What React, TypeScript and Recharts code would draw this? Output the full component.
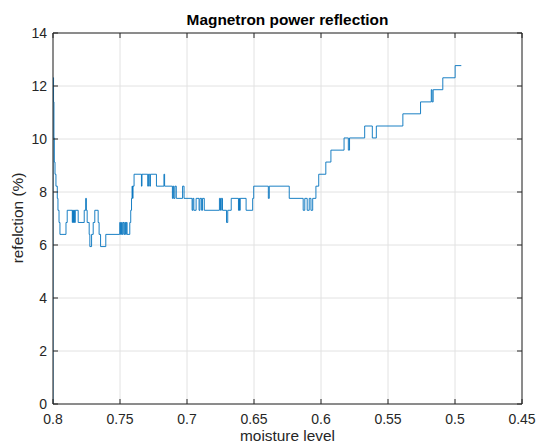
import React from 'react';
import { LineChart, Line, XAxis, YAxis, CartesianGrid } from 'recharts';

// moisture level (x) and reflection % (y), one entry per step change
const moisture = [
  0.8, 0.8, 0.7996, 0.7993, 0.799, 0.7985, 0.7978, 0.7968, 0.7963, 0.7955,
  0.7948, 0.7903, 0.7894, 0.7856, 0.7853, 0.7847, 0.7842, 0.7838, 0.7834, 0.7812,
  0.7767, 0.7756, 0.7751, 0.7745, 0.773, 0.7725, 0.7712, 0.77, 0.7688, 0.7663,
  0.7656, 0.7645, 0.7606, 0.7502, 0.7496, 0.7489, 0.7483, 0.7477, 0.747, 0.7464,
  0.7458, 0.7453, 0.7447, 0.7427, 0.742, 0.7414, 0.741, 0.7406, 0.7403, 0.7395,
  0.734, 0.7336, 0.7293, 0.7288, 0.7278, 0.7273, 0.7228, 0.7172, 0.7167, 0.7109,
  0.7103, 0.7098, 0.709, 0.708, 0.7033, 0.7022, 0.6962, 0.6956, 0.6949, 0.6932,
  0.691, 0.6903, 0.6891, 0.6884, 0.6871, 0.6758, 0.675, 0.6744, 0.6735, 0.6705,
  0.6696, 0.667, 0.6616, 0.661, 0.6607, 0.6603, 0.6559, 0.651, 0.6502, 0.6393,
  0.6386, 0.6237, 0.6133, 0.6121, 0.6103, 0.6088, 0.6075, 0.6062, 0.6038, 0.6017,
  0.5964, 0.5926, 0.5828, 0.5796, 0.5787, 0.5674, 0.5617, 0.5587, 0.5389, 0.5257,
  0.5177, 0.5171, 0.5163, 0.5091, 0.4999, 0.4953,
];

const reflection = [
  0, 12.31, 11.4, 10.04, 9.13, 8.67, 8.22, 7.76, 7.31, 6.85,
  6.4, 6.85, 7.31, 6.85, 7.31, 6.85, 7.31, 6.85, 7.31, 6.85,
  7.31, 7.76, 7.31, 6.85, 6.4, 5.94, 6.4, 6.85, 7.31, 6.85,
  6.4, 5.94, 6.4, 6.85, 6.4, 6.85, 6.4, 6.85, 6.4, 6.85,
  6.4, 6.85, 6.4, 6.85, 7.31, 7.76, 8.22, 7.76, 8.22, 8.67,
  8.22, 8.67, 8.22, 8.67, 8.22, 8.67, 8.22, 8.67, 8.22, 7.76,
  8.22, 7.76, 8.22, 7.76, 8.22, 7.76, 7.31, 7.76, 7.31, 7.76,
  7.31, 7.76, 7.31, 7.76, 7.31, 7.76, 7.31, 7.76, 7.31, 6.85,
  7.31, 7.76, 7.31, 7.76, 7.31, 7.76, 7.31, 7.76, 8.22, 7.76,
  8.22, 7.76, 7.31, 7.76, 7.31, 7.76, 7.31, 7.76, 8.22, 8.67,
  9.13, 9.58, 10.04, 9.58, 10.04, 10.49, 10.04, 10.49, 10.95, 11.4,
  11.86, 11.4, 11.86, 12.31, 12.77, 12.77,
];

const xTicks = [0.8, 0.75, 0.7, 0.65, 0.6, 0.55, 0.5, 0.45];
const yTicks = [0, 2, 4, 6, 8, 10, 12, 14];

const data = moisture.map((m, i) => ({ m, r: reflection[i] }));

const AX = '#262626';
const FONT = '"Liberation Sans", Arial, Helvetica, sans-serif';
const TL = 5; // inward tick length

function BottomTick(props: any) {
  const { x, y, payload } = props;
  return (
    <g>
      <line x1={x} x2={x} y1={y - 10} y2={y - 10 - TL} stroke={AX} />
      <text x={x} y={y} dy="0.71em" textAnchor="middle" fill={AX} fontSize={14} fontFamily={FONT}>
        {String(payload.value)}
      </text>
    </g>
  );
}

function LeftTick(props: any) {
  const { x, y, payload } = props;
  return (
    <g>
      <line x1={x + 6} x2={x + 6 + TL} y1={y} y2={y} stroke={AX} />
      <text x={x} y={y} dy="0.355em" textAnchor="end" fill={AX} fontSize={14} fontFamily={FONT}>
        {String(payload.value)}
      </text>
    </g>
  );
}

function TopTick(props: any) {
  const { x, y } = props;
  return <line x1={x} x2={x} y1={y} y2={y + TL} stroke={AX} />;
}

function RightTick(props: any) {
  const { x, y } = props;
  return <line x1={x} x2={x - TL} y1={y} y2={y} stroke={AX} />;
}

export default function App() {
  return (
    <div style={{ position: 'absolute', left: 0, top: 0, width: 537, height: 445, background: '#fff' }}>
      <LineChart width={537} height={445} data={data} margin={{ top: 32, right: 14, bottom: 11, left: 8 }}>
        <CartesianGrid stroke="#e2e2e2" strokeWidth={1} />
        <XAxis
          dataKey="m"
          type="number"
          domain={[0.45, 0.8]}
          reversed
          allowDataOverflow
          ticks={xTicks}
          interval={0}
          height={30}
          tickSize={0}
          tickMargin={10}
          tickLine={false}
          axisLine={{ stroke: AX }}
          tick={<BottomTick />}
        />
        <XAxis
          xAxisId="top"
          orientation="top"
          dataKey="m"
          type="number"
          domain={[0.45, 0.8]}
          reversed
          allowDataOverflow
          ticks={xTicks}
          interval={0}
          height={1}
          tickSize={0}
          tickMargin={0}
          tickLine={false}
          axisLine={{ stroke: AX }}
          tick={<TopTick />}
        />
        <YAxis
          type="number"
          domain={[0, 14]}
          allowDataOverflow
          ticks={yTicks}
          interval={0}
          width={45}
          tickSize={0}
          tickMargin={6}
          tickLine={false}
          axisLine={{ stroke: AX }}
          tick={<LeftTick />}
        />
        <YAxis
          yAxisId="right"
          orientation="right"
          type="number"
          domain={[0, 14]}
          allowDataOverflow
          ticks={yTicks}
          interval={0}
          width={1}
          tickSize={0}
          tickMargin={0}
          tickLine={false}
          axisLine={{ stroke: AX }}
          tick={<RightTick />}
        />
        <Line
          dataKey="r"
          type="stepAfter"
          stroke="#0072BD"
          strokeWidth={0.9}
          dot={false}
          activeDot={false}
          isAnimationActive={false}
        />
      </LineChart>
      <svg width={537} height={445} style={{ position: 'absolute', left: 0, top: 0, pointerEvents: 'none' }}>
        <text x={287.5} y={25} textAnchor="middle" fontSize={15.4} fontWeight="bold" fill="#000" fontFamily={FONT}>
          Magnetron power reflection
        </text>
        <text x={287.5} y={441} textAnchor="middle" fontSize={15.4} fill={AX} fontFamily={FONT}>
          moisture level
        </text>
        <text
          x={23}
          y={218}
          textAnchor="middle"
          fontSize={15.4}
          fill={AX}
          fontFamily={FONT}
          transform="rotate(-90 23 218)"
        >
          refelction (%)
        </text>
      </svg>
    </div>
  );
}
